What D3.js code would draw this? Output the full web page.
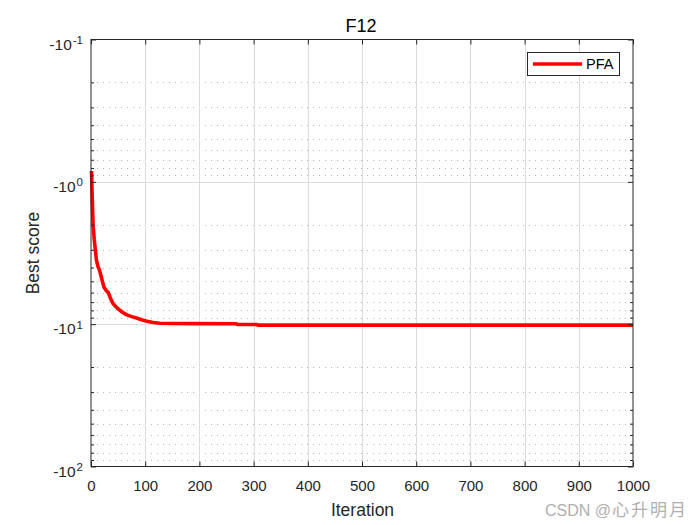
<!DOCTYPE html>
<html>
<head>
<meta charset="utf-8">
<script src="https://cdn.jsdelivr.net/npm/d3@7"></script>
<style>
  body { margin: 0; background: #fff; }
  svg { font-family: "Liberation Sans", Arial, sans-serif; }
</style>
</head>
<body>
<div id="chart"></div>
<script>
// Convergence curve of PFA on F12
const iterations = [1, 2, 3, 4, 6, 8, 10, 13, 15, 18, 21, 24, 28, 32, 36, 41, 46, 50, 58, 66, 75, 84, 93, 103, 115, 127, 150, 195, 268, 270, 305, 308, 400, 500, 600, 700, 800, 900, 1000];
const bestScore = [-0.84, -1.2, -1.6, -2.05, -2.55, -3.0, -3.55, -3.95, -4.1, -4.5, -5.0, -5.5, -5.8, -6.0, -6.6, -7.2, -7.55, -7.8, -8.25, -8.6, -8.85, -9.05, -9.3, -9.55, -9.72, -9.85, -9.9, -9.92, -9.93, -10.05, -10.06, -10.16, -10.16, -10.16, -10.16, -10.16, -10.16, -10.16, -10.16];
const seriesName = "PFA";
const xTicks = [0, 100, 200, 300, 400, 500, 600, 700, 800, 900, 1000];
const yExponents = [-1, 0, 1, 2];

const W = 700, H = 525;
const mLeft = 91, mRight = 633, mTop = 39.5, mBottom = 466.5;

const svg = d3.select("#chart").append("svg")
    .attr("width", W).attr("height", H);

const x = d3.scaleLinear().domain([0, 1000]).range([mLeft, mRight]);
// magnitude on a log scale, -0.1 at the top, -100 at the bottom
const y = d3.scaleLog().domain([0.1, 100]).range([mTop, mBottom]);

// minor grid (dotted)
const minor = [];
yExponents.slice(0, -1).forEach(e => {
    for (let k = 2; k <= 9; k++) minor.push(k * Math.pow(10, e));
});
svg.append("g").selectAll("line").data(minor).enter().append("line")
    .attr("x1", mLeft).attr("x2", mRight)
    .attr("y1", d => Math.round(y(d)) + 0.5).attr("y2", d => Math.round(y(d)) + 0.5)
    .attr("stroke", "#b8b8b8").attr("stroke-width", 1)
    .attr("stroke-dasharray", "1,5");

// major grid
svg.append("g").selectAll("line").data(xTicks.slice(1, -1)).enter().append("line")
    .attr("x1", d => Math.round(x(d)) + 0.5).attr("x2", d => Math.round(x(d)) + 0.5)
    .attr("y1", mTop).attr("y2", mBottom)
    .attr("stroke", "#dcdcdc");
svg.append("g").selectAll("line").data(yExponents.slice(1, -1)).enter().append("line")
    .attr("x1", mLeft).attr("x2", mRight)
    .attr("y1", d => Math.round(y(Math.pow(10, d))) + 0.5).attr("y2", d => Math.round(y(Math.pow(10, d))) + 0.5)
    .attr("stroke", "#dcdcdc");

// curve
const line = d3.line()
    .x((d, i) => x(iterations[i]))
    .y(d => y(-d));
svg.append("path")
    .datum(bestScore)
    .attr("d", line)
    .attr("fill", "none")
    .attr("stroke", "#ff0000")
    .attr("stroke-width", 3.6)
    .attr("stroke-linejoin", "round");

// axes box with inward ticks
const axisColor = "#262626";
const xb = d3.axisBottom(x).tickValues(xTicks).tickSizeInner(-5).tickSizeOuter(0).tickFormat(d3.format("d"));
const gx = svg.append("g").attr("transform", `translate(0,${mBottom})`).call(xb);
svg.append("g").attr("transform", `translate(0,${mTop})`)
    .call(d3.axisTop(x).tickValues(xTicks).tickSizeInner(-5).tickSizeOuter(0).tickFormat(""));

const majorY = yExponents.map(e => Math.pow(10, e));
svg.append("g").attr("transform", `translate(${mLeft},0)`)
    .call(d3.axisLeft(y).tickValues(majorY).tickSizeInner(-5).tickSizeOuter(0).tickFormat(""));
svg.append("g").attr("transform", `translate(${mRight},0)`)
    .call(d3.axisRight(y).tickValues(majorY).tickSizeInner(-5).tickSizeOuter(0).tickFormat(""));
svg.append("g").attr("transform", `translate(${mLeft},0)`)
    .call(d3.axisLeft(y).tickValues(minor).tickSizeInner(-3).tickSizeOuter(0).tickFormat(""));
svg.append("g").attr("transform", `translate(${mRight},0)`)
    .call(d3.axisRight(y).tickValues(minor).tickSizeInner(-3).tickSizeOuter(0).tickFormat(""));

svg.selectAll(".domain").remove();
svg.selectAll(".tick line").attr("stroke", axisColor);
svg.append("rect")
    .attr("x", mLeft).attr("y", mTop)
    .attr("width", mRight - mLeft).attr("height", mBottom - mTop)
    .attr("fill", "none").attr("stroke", axisColor).attr("stroke-width", 1);

gx.selectAll("text")
    .attr("y", 24).attr("dy", 0)
    .attr("font-size", 15).attr("fill", axisColor)
    .attr("font-family", "Liberation Sans, Arial, sans-serif");

// y tick labels as -10^k
const ylab = svg.append("g");
yExponents.forEach(e => {
    const t = ylab.append("text")
        .attr("x", 83).attr("y", y(Math.pow(10, e)) + 10)
        .attr("text-anchor", "end")
        .attr("font-size", 15.5).attr("fill", axisColor);
    t.append("tspan").text("-10");
    t.append("tspan").attr("dy", -5.5).attr("dx", 1).attr("font-size", 11.5).text(e);
});

// titles
svg.append("text").attr("x", 361).attr("y", 31.5)
    .attr("text-anchor", "middle").attr("font-size", 18).attr("fill", "#000").text("F12");
svg.append("text").attr("x", 362.5).attr("y", 515.5)
    .attr("text-anchor", "middle").attr("font-size", 17.5).attr("fill", axisColor).text("Iteration");
svg.append("text").attr("transform", `translate(38.5,253) rotate(-90)`)
    .attr("text-anchor", "middle").attr("font-size", 17.5).attr("fill", axisColor).text("Best score");

// legend
const lg = svg.append("g");
lg.append("rect").attr("x", 527.5).attr("y", 52.5).attr("width", 92).attr("height", 23)
    .attr("fill", "#fff").attr("stroke", axisColor);
lg.append("line").attr("x1", 533).attr("x2", 582).attr("y1", 64).attr("y2", 64)
    .attr("stroke", "#ff0000").attr("stroke-width", 3.5);
lg.append("text").attr("x", 586).attr("y", 69.3).attr("font-size", 14.5).attr("fill", "#000").text(seriesName);

// watermark
const wm = svg.append("text").attr("x", 688).attr("y", 516).attr("text-anchor", "end")
    .attr("fill", "#b0b0b0")
    .attr("font-family", "Liberation Sans, 'Noto Sans CJK SC', sans-serif");
wm.append("tspan").attr("font-size", 16).text("CSDN @");
wm.append("tspan").attr("font-size", 17).attr("letter-spacing", 2).attr("dx", 1)
    .attr("font-family", "'Noto Sans CJK SC', sans-serif").text("心升明月");
</script>
</body>
</html>
